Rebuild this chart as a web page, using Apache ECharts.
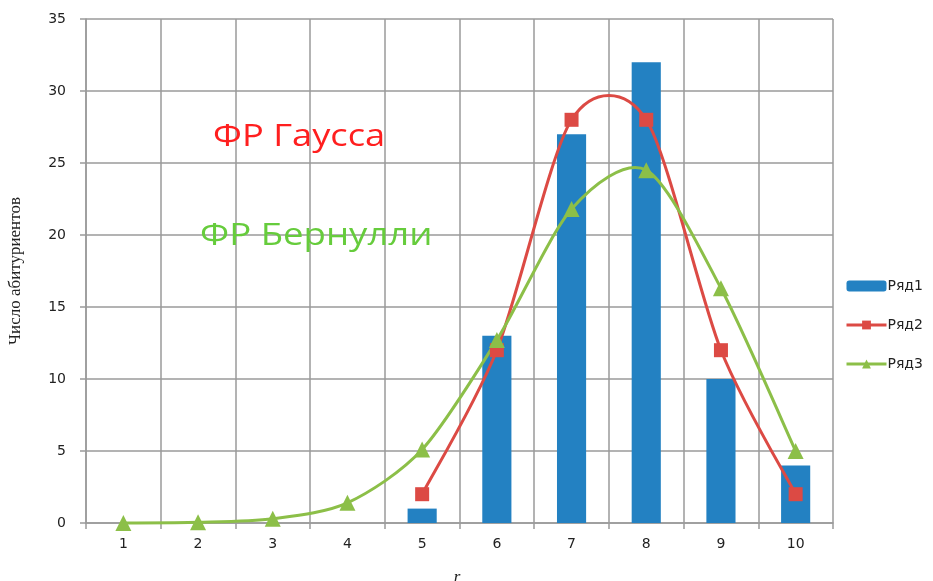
<!DOCTYPE html>
<html>
<head>
<meta charset="utf-8">
<script src="https://cdn.jsdelivr.net/npm/echarts@6/dist/echarts.min.js"></script>
<style>
  html, body { margin: 0; padding: 0; background: #fff; }
  #chart { width: 933px; height: 581px; }
</style>
</head>
<body>
<div id="chart"></div>
<script>
// Number of applicants per score r, with two fitted distributions
const categories = ['1', '2', '3', '4', '5', '6', '7', '8', '9', '10'];
const row1 = [null, null, null, null, 1, 13, 27, 32, 10, 4];      // observed counts (bars)
const row2 = [null, null, null, null, 2, 12, 28, 28, 12, 2];      // Gaussian fit
const row3 = [0, 0.05, 0.3, 1.4, 5.1, 12.7, 21.8, 24.5, 16.3, 5]; // Bernoulli fit
const seriesNames = ['Ряд1', 'Ряд2', 'Ряд3'];
const yTicks = { min: 0, max: 35, interval: 5 };

const gridColor = '#9a9a9a';
const blue = '#2381c2';
const red = '#dc4a44';
const green = '#8cbf48';

// Cardinal-spline segment between point i and i+1, drawn through the axis scales
function splineRenderer(values, color) {
  const ok = (k) => k >= 0 && k < values.length && values[k] != null;
  return function (params, api) {
    const i = params.dataIndex;
    if (!ok(i) || !ok(i + 1)) return null;
    const i0 = ok(i - 1) ? i - 1 : i;
    const i3 = ok(i + 2) ? i + 2 : i + 1;
    const p0 = api.coord([i0, values[i0]]);
    const p1 = api.coord([i, values[i]]);
    const p2 = api.coord([i + 1, values[i + 1]]);
    const p3 = api.coord([i3, values[i3]]);
    const t = 0.14;
    return {
      type: 'bezierCurve',
      shape: {
        x1: p1[0], y1: p1[1],
        x2: p2[0], y2: p2[1],
        cpx1: p1[0] + (p2[0] - p0[0]) * t,
        cpy1: p1[1] + (p2[1] - p0[1]) * t,
        cpx2: p2[0] - (p3[0] - p1[0]) * t,
        cpy2: p2[1] - (p3[1] - p1[1]) * t
      },
      style: { stroke: color, lineWidth: 3, fill: null, lineCap: 'round' },
      silent: true
    };
  };
}

const chart = echarts.init(document.getElementById('chart'), null, { renderer: 'canvas' });

chart.setOption({
  animation: false,
  backgroundColor: '#fff',
  grid: { left: 86, right: 100, top: 19, bottom: 58, containLabel: false, outerBoundsMode: 'none' },
  legend: {
    orient: 'vertical',
    left: 845,
    top: 279,
    padding: 0,
    itemWidth: 40,
    itemHeight: 11,
    itemGap: 25,
    textStyle: { fontFamily: 'DejaVu Sans', fontSize: 14, color: '#222', padding: [0, 0, 0, -4] },
    data: [
      { name: seriesNames[0] },
      { name: seriesNames[1], lineStyle: { color: red, width: 3, opacity: 1 } },
      { name: seriesNames[2], lineStyle: { color: green, width: 3, opacity: 1 } }
    ]
  },
  xAxis: {
    type: 'category',
    data: categories,
    boundaryGap: true,
    name: 'r',
    nameLocation: 'middle',
    nameGap: 46,
    nameTextStyle: { fontFamily: 'Liberation Serif', fontStyle: 'italic', fontSize: 17, color: '#222', padding: [0, 0, 0, -5] },
    axisLine: { lineStyle: { color: gridColor, width: 1.5 } },
    axisTick: { show: true, alignWithLabel: false, length: 6, lineStyle: { color: gridColor, width: 1.5 } },
    axisLabel: { fontFamily: 'DejaVu Sans', fontSize: 14, color: '#222', margin: 14 },
    splitLine: { show: true, lineStyle: { color: gridColor, width: 1.5 } }
  },
  yAxis: {
    type: 'value',
    min: yTicks.min,
    max: yTicks.max,
    interval: yTicks.interval,
    name: 'Число абитуриентов',
    nameLocation: 'middle',
    nameGap: 62,
    nameRotate: 90,
    nameTextStyle: { fontFamily: 'Liberation Serif', fontSize: 17, color: '#222' },
    axisLine: { show: true, lineStyle: { color: gridColor, width: 1.5 } },
    axisTick: { show: true, length: 6, lineStyle: { color: gridColor, width: 1.5 } },
    axisLabel: { fontFamily: 'DejaVu Sans', fontSize: 14, color: '#222', margin: 20 },
    splitLine: { show: true, lineStyle: { color: gridColor, width: 1.5 } }
  },
  series: [
    {
      name: seriesNames[0],
      type: 'bar',
      data: row1,
      barWidth: '39%',
      itemStyle: { color: blue },
      z: 2
    },
    {
      name: seriesNames[1],
      type: 'line',
      data: row2,
      symbol: 'rect',
      symbolSize: 14,
      showAllSymbol: true,
      lineStyle: { width: 0, opacity: 0 },
      itemStyle: { color: red },
      z: 5
    },
    {
      name: seriesNames[2],
      type: 'line',
      data: row3,
      symbol: 'triangle',
      symbolSize: 16,
      showAllSymbol: true,
      lineStyle: { width: 0, opacity: 0 },
      itemStyle: { color: green },
      z: 6
    },
    {
      name: seriesNames[1] + ' curve',
      type: 'custom',
      data: row2.map((v, i) => [i, v == null ? 0 : v]),
      renderItem: splineRenderer(row2, red),
      z: 3
    },
    {
      name: seriesNames[2] + ' curve',
      type: 'custom',
      data: row3.map((v, i) => [i, v]),
      renderItem: splineRenderer(row3, green),
      z: 4
    }
  ],
  graphic: [
    {
      type: 'text',
      left: 213,
      top: 122,
      scaleX: 1.17,
      style: { text: 'ФР Гаусса', fill: '#ff1f1f', font: '31px "Open Sans"' },
      z: 10
    },
    {
      type: 'text',
      left: 200,
      top: 221,
      scaleX: 1.18,
      style: { text: 'ФР Бернулли', fill: '#66cc3c', font: '31px "Open Sans"' },
      z: 10
    }
  ]
});
</script>
</body>
</html>
